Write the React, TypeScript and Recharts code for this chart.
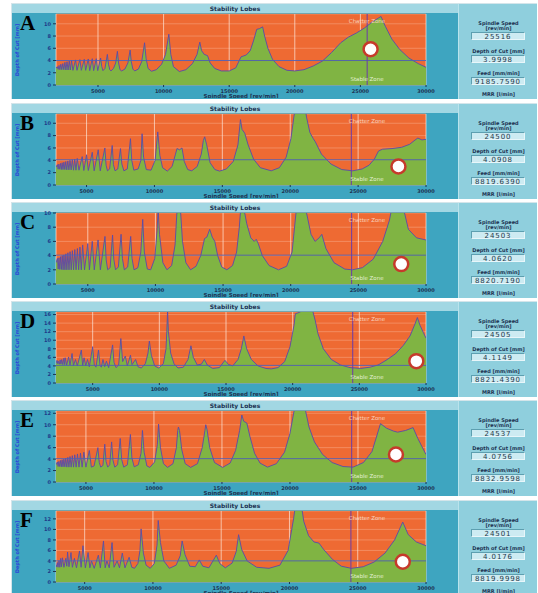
import React from "react";
import {
  ComposedChart,
  Area,
  XAxis,
  YAxis,
  CartesianGrid,
  ReferenceLine,
  ReferenceDot,
  Label,
} from "recharts";

type Pt = [number, number];

// spindle speed [rev/min], depth of cut [mm]
const lobesA: Pt[] = [
  [1800, 2.75], [1900, 3.0], [1960, 2.55], [2030, 3.2], [2095, 2.5], [2170, 3.4], [2240, 2.5], [2320, 3.5],
  [2395, 2.5], [2480, 3.7], [2555, 2.45], [2640, 3.8], [2720, 2.45], [2810, 3.9], [2890, 2.45], [2985, 4.0],
  [3090, 2.4], [3290, 4.1], [3400, 2.4], [3620, 4.15], [3730, 2.4], [3955, 4.2], [4060, 2.4], [4260, 4.25],
  [4370, 2.35], [4565, 4.3], [4670, 2.35], [4870, 4.3], [4980, 2.35], [5200, 4.4], [5290, 3.0], [5380, 2.35],
  [5530, 2.7], [5715, 5.0], [5800, 3.4], [5900, 2.5], [5990, 2.3], [6180, 2.7], [6350, 3.6], [6480, 5.5],
  [6570, 3.6], [6680, 2.5], [6800, 2.3], [7050, 2.6], [7280, 3.6], [7450, 5.7], [7540, 3.8], [7660, 2.6],
  [7800, 2.3], [8080, 2.6], [8330, 3.8], [8550, 6.9], [8670, 4.3], [8820, 2.7], [9080, 2.25], [9450, 2.5],
  [9850, 3.4], [10150, 5.0], [10400, 8.3], [10550, 5.0], [10750, 3.0], [11200, 2.2], [11700, 2.5], [12200, 3.5],
  [12550, 5.0], [12760, 7.0], [12900, 5.6], [13100, 5.0], [13350, 4.8], [13550, 3.6], [13900, 2.7], [14400, 2.3],
  [15000, 2.3], [15500, 2.8], [15900, 4.6], [16300, 4.9], [16600, 5.6], [16850, 7.2], [17100, 9.1], [17300, 9.2],
  [17550, 9.5], [17700, 8.0], [17950, 6.0], [18300, 4.2], [18800, 3.0], [19400, 2.4], [20000, 2.3], [20700, 2.5],
  [21400, 3.1], [22100, 3.9], [22800, 5.3], [23500, 6.9], [24070, 7.8], [24700, 8.5], [25300, 9.3], [25900, 10.3],
  [26570, 11.2], [26900, 9.6], [27400, 7.5], [28000, 5.8], [28700, 4.4], [29400, 3.5], [30000, 2.9],
];

const lobesB: Pt[] = [
  [2750, 2.9], [2850, 3.3], [2905, 2.55], [2960, 3.4], [3020, 2.55], [3080, 3.5], [3140, 2.5], [3200, 3.6],
  [3265, 2.5], [3330, 3.7], [3400, 2.5], [3470, 3.8], [3545, 2.45], [3620, 3.9], [3700, 2.45], [3780, 4.0],
  [3865, 2.45], [3950, 4.1], [4040, 2.4], [4130, 4.2], [4220, 2.4], [4315, 4.3], [4440, 2.4], [4680, 4.6],
  [4800, 2.35], [5000, 4.9], [5130, 2.35], [5420, 5.3], [5560, 2.3], [5860, 5.7], [6010, 2.3], [6350, 6.0],
  [6440, 3.2], [6540, 2.3], [6700, 2.6], [6890, 6.4], [6980, 3.3], [7100, 2.3], [7300, 2.6], [7500, 5.9],
  [7600, 3.4], [7750, 2.3], [8000, 2.6], [8235, 7.5], [8330, 4.0], [8480, 2.4], [8800, 2.6], [9000, 4.0],
  [9090, 8.3], [9200, 4.5], [9400, 2.5], [9750, 2.4], [10050, 4.0], [10245, 8.6], [10400, 4.8], [10600, 2.8],
  [10950, 2.25], [11300, 3.0], [11550, 5.0], [11660, 5.9], [11850, 5.7], [12030, 6.0], [12200, 3.8], [12450, 2.5],
  [12750, 2.3], [13150, 3.0], [13450, 5.0], [13600, 7.2], [13700, 7.8], [13850, 6.5], [14100, 3.6], [14450, 2.5],
  [14800, 2.25], [15300, 2.6], [15800, 3.8], [16150, 6.5], [16335, 10.6], [16450, 9.0], [16650, 8.4], [16900, 6.5],
  [17300, 4.2], [17800, 2.8], [18600, 2.3], [19200, 2.8], [19700, 4.5], [20050, 7.5], [20300, 11.5], [20500, 14],
  [21000, 14], [21200, 11.0], [21450, 8.5], [21700, 7.5], [21850, 7.0], [22300, 5.0], [23000, 3.4], [23800, 2.5],
  [24600, 2.3], [25300, 2.6], [25800, 3.2], [26200, 4.2], [26500, 5.5], [26800, 5.8], [27500, 5.9], [28200, 6.1],
  [28800, 6.6], [29200, 7.3], [29400, 7.6], [29700, 7.3], [30000, 7.4],
];

const lobesC: Pt[] = [
  [2650, 3.0], [2760, 3.6], [2810, 2.1], [2870, 3.7], [2930, 2.05], [2990, 3.85], [3050, 2.05], [3110, 4.0],
  [3175, 2.0], [3240, 4.1], [3310, 2.0], [3380, 4.25], [3455, 2.0], [3530, 4.4], [3610, 2.0], [3690, 4.55],
  [3775, 2.0], [3860, 4.7], [3950, 2.0], [4040, 4.85], [4135, 2.0], [4230, 5.0], [4325, 2.0], [4420, 5.2],
  [4520, 2.0], [4620, 5.5], [4760, 2.0], [5000, 5.7], [5120, 2.0], [5330, 6.0], [5480, 2.0], [5760, 6.2],
  [5930, 2.0], [6270, 6.7], [6360, 3.4], [6470, 2.0], [6650, 2.3], [6830, 6.9], [6920, 3.5], [7050, 2.0],
  [7260, 2.4], [7460, 7.0], [7560, 3.6], [7700, 2.0], [7950, 2.4], [8170, 6.7], [8270, 3.6], [8420, 2.0],
  [8700, 2.3], [8920, 4.5], [9060, 9.1], [9180, 4.5], [9400, 2.1], [9650, 2.0], [9950, 3.6], [10120, 7.5],
  [10200, 10.5], [10300, 7.0], [10550, 3.0], [10850, 2.0], [11200, 2.6], [11450, 5.5], [11600, 10.5], [11720, 12],
  [11850, 10.5], [12000, 6.0], [12250, 3.0], [12600, 2.0], [13000, 2.5], [13350, 4.0], [13630, 6.4], [13800, 6.6],
  [14010, 7.7], [14200, 6.6], [14390, 6.0], [14600, 4.0], [14900, 2.4], [15280, 2.0], [15700, 2.6], [16000, 4.5],
  [16200, 8.0], [16300, 10.5], [16420, 12], [16550, 10.5], [16750, 8.5], [17050, 6.5], [17300, 6.0], [17450, 6.3],
  [17600, 5.7], [17900, 4.0], [18400, 2.6], [19100, 2.0], [19700, 2.5], [20100, 4.5], [20400, 10.2], [20700, 13],
  [21000, 13], [21150, 10.2], [21500, 7.0], [21800, 6.0], [22100, 6.5], [22300, 7.0], [22600, 5.0], [23200, 3.0],
  [24000, 2.1], [24550, 2.0], [25300, 2.3], [26100, 3.5], [26800, 6.0], [27300, 9.0], [27450, 10.5], [28000, 13],
  [28350, 10.5], [28700, 7.7], [29300, 6.5], [30000, 6.2],
];

const lobesD: Pt[] = [
  [2250, 4.6], [2330, 5.3], [2380, 4.5], [2423, 5.1], [2500, 4.4], [2560, 5.4], [2620, 4.4], [2681, 5.5],
  [2760, 4.3], [2840, 5.8], [2900, 4.3], [2940, 5.9], [3050, 4.2], [3196, 6.1], [3300, 4.2], [3454, 6.9],
  [3560, 4.1], [3712, 5.5], [3850, 4.0], [4150, 7.7], [4250, 4.1], [4356, 5.9], [4480, 4.0], [4613, 5.5],
  [4750, 3.8], [5000, 8.5], [5120, 4.2], [5250, 3.7], [5438, 7.7], [5550, 4.1], [5650, 3.7], [5773, 5.5],
  [5900, 3.8], [6031, 5.1], [6200, 3.6], [6495, 8.9], [6600, 4.8], [6750, 3.6], [6950, 4.2], [7113, 10.4],
  [7250, 5.0], [7448, 6.3], [7600, 4.0], [7835, 6.5], [7950, 4.3], [8221, 5.5], [8400, 3.8], [8650, 3.5],
  [8950, 4.5], [9150, 7.0], [9252, 9.8], [9400, 6.5], [9650, 4.0], [9950, 3.5], [10300, 4.5], [10500, 8.0],
  [10560, 12], [10618, 17], [10680, 12], [10850, 7], [11100, 4.5], [11400, 3.5], [11800, 3.7], [12150, 5.5],
  [12370, 8.7], [12550, 6.0], [12850, 4.2], [13150, 4.4], [13375, 5.5], [13600, 4.2], [14000, 3.4], [14500, 3.6],
  [14921, 5.3], [15200, 4.3], [15500, 4.0], [15900, 5.5], [16150, 8.0], [16339, 11.0], [16550, 8.0], [16900, 5.5],
  [17400, 4.0], [18000, 3.4], [18400, 3.3], [18900, 3.6], [19400, 5.0], [19800, 8.5], [20100, 13.5], [20204, 16.2],
  [20500, 16.5], [21000, 17.5], [21493, 17], [21700, 14.5], [21900, 11.5], [22300, 8.0], [22900, 5.5], [23600, 4.2],
  [24300, 3.6], [25100, 3.4], [25800, 3.7], [26400, 4.2], [27000, 5.3], [27700, 6.8], [28300, 8.8], [28800, 11.0],
  [29200, 14.0], [29353, 15.3], [29550, 13.5], [29800, 11.8], [30000, 10.5],
];

const lobesE: Pt[] = [
  [2800, 3.0], [2900, 3.5], [2955, 2.7], [3010, 3.6], [3070, 2.7], [3130, 3.75], [3190, 2.65], [3250, 3.9],
  [3315, 2.65], [3380, 4.0], [3450, 2.65], [3520, 4.15], [3595, 2.6], [3670, 4.3], [3750, 2.6], [3830, 4.45],
  [3915, 2.6], [4000, 4.6], [4090, 2.6], [4180, 4.75], [4280, 2.6], [4380, 4.9], [4490, 2.6], [4600, 5.05],
  [4720, 2.6], [4850, 5.2], [5000, 2.6], [5250, 5.5], [5400, 2.6], [5600, 2.8], [5880, 6.0], [5980, 3.4],
  [6090, 2.6], [6250, 2.9], [6385, 6.6], [6480, 3.6], [6600, 2.6], [6750, 3.0], [6890, 7.0], [6990, 3.8],
  [7120, 2.6], [7330, 3.0], [7520, 7.6], [7630, 3.9], [7780, 2.6], [8050, 3.0], [8270, 8.3], [8380, 4.2],
  [8550, 2.65], [8850, 3.0], [9050, 5.0], [9155, 9.0], [9280, 5.2], [9480, 2.8], [9700, 2.55], [10050, 3.5],
  [10250, 6.5], [10340, 10.1], [10480, 6.0], [10700, 3.2], [11000, 2.55], [11400, 3.2], [11650, 6.0], [11750, 9.0],
  [11800, 9.6], [11880, 9.0], [12050, 5.6], [12300, 3.2], [12700, 2.55], [13200, 3.2], [13550, 6.0], [13750, 9.0],
  [13810, 10.0], [13900, 9.2], [14100, 6.0], [14450, 3.4], [15050, 2.55], [15600, 3.3], [16000, 5.5], [16300, 9.0],
  [16460, 11.7], [16600, 10.6], [16830, 10.3], [17050, 8.0], [17400, 5.0], [17800, 3.3], [18350, 2.6], [19000, 3.2],
  [19600, 5.2], [20000, 8.5], [20300, 12.4], [20500, 14], [21000, 14], [21150, 12.4], [21400, 9.6], [21800, 7.0],
  [22400, 4.8], [23100, 3.4], [23900, 2.7], [24640, 2.6], [25400, 3.4], [26025, 5.3], [26400, 8.2], [26655, 10.2],
  [27100, 9.4], [27600, 8.9], [27914, 8.7], [28500, 9.0], [29050, 9.5], [29400, 7.6], [29700, 6.2], [30000, 4.8],
];

const lobesF: Pt[] = [
  [2900, 3.3], [2950, 2.9], [2996, 3.7], [3050, 2.8], [3121, 4.1], [3180, 2.8], [3247, 4.5], [3300, 2.9],
  [3372, 4.6], [3480, 2.8], [3622, 4.5], [3690, 3.0], [3748, 5.7], [3850, 2.9], [3998, 5.6], [4100, 2.8],
  [4249, 4.5], [4400, 2.7], [4624, 5.9], [4740, 2.8], [4875, 6.9], [5050, 2.7], [5251, 5.6], [5380, 2.7],
  [5501, 4.0], [5700, 2.6], [6002, 5.1], [6150, 2.7], [6378, 7.8], [6500, 2.7], [6629, 4.0], [6800, 2.7],
  [7004, 7.5], [7150, 2.8], [7380, 4.0], [7550, 2.7], [7756, 5.5], [7950, 2.7], [8257, 4.7], [8450, 2.8],
  [8650, 2.6], [8900, 3.5], [9050, 6.0], [9133, 10.1], [9300, 5.5], [9500, 3.2], [9800, 2.6], [10100, 3.5],
  [10300, 7.0], [10386, 11.7], [10550, 7.5], [10800, 4.0], [11200, 2.6], [11700, 3.2], [12000, 5.0], [12139, 7.8],
  [12350, 5.2], [12700, 3.0], [13100, 2.9], [13392, 4.2], [13650, 3.0], [14100, 2.7], [14644, 5.1], [14900, 3.5],
  [15300, 2.7], [15800, 3.6], [16100, 5.8], [16273, 9.0], [16500, 6.2], [16900, 4.0], [17600, 2.8], [18500, 2.6],
  [19300, 3.2], [19900, 6.0], [20300, 12], [20406, 14], [20907, 14], [21050, 11.5], [21400, 8.8], [21800, 7.6],
  [22159, 7.4], [22500, 6.2], [23150, 4.3], [23800, 3.0], [24539, 2.6], [25400, 2.9], [26200, 3.8], [27000, 5.5],
  [27700, 8.0], [28297, 11.4], [28700, 9.0], [29300, 7.6], [30000, 6.9],
];

const lobes = [lobesA, lobesB, lobesC, lobesD, lobesE, lobesF];
const panelLetters = ["A", "B", "C", "D", "E", "F"];
const spindleSpeeds = [25516, 24500, 24503, 24505, 24537, 24501];
const depthsOfCut = [3.9998, 4.0908, 4.062, 4.1149, 4.0756, 4.0176];
const depthTexts = ["3.9998", "4.0908", "4.0620", "4.1149", "4.0756", "4.0176"];
const feedTexts = ["9185.7590", "8819.6390", "8820.7190", "8821.4390", "8832.9598", "8819.9998"];
const speedMin = [1800, 2750, 2650, 2250, 2800, 2900];
const depthMax = [11.6, 11.5, 10, 16.6, 12.4, 13.5];
const depthTicks = [
  [0, 2, 4, 6, 8, 10],
  [0, 2, 4, 6, 8, 10],
  [0, 2, 4, 6, 8, 10],
  [0, 2, 4, 6, 8, 10, 12, 14, 16],
  [0, 2, 4, 6, 8, 10, 12],
  [0, 2, 4, 6, 8, 10, 12],
];
const speedTicks = [5000, 10000, 15000, 20000, 25000, 30000];
const markerSpeed = [25777, 27970, 28170, 29275, 27790, 28300];
const markerDepth = [5.85, 3.0, 2.8, 5.1, 4.8, 3.85];

const panelTops = [3, 103, 202, 301, 400, 500];

const ORANGE = "#ee6a33";
const GREEN = "#80b443";
const CURVE = "#5b49a8";
const TEAL = "#3ea5c0";
const SIDE = "#8fcfdd";
const NAVY = "#1d3352";

function InfoLine({ top, text }: { top: number; text: string }) {
  return (
    <div
      style={{
        position: "absolute",
        left: 0,
        width: 79,
        top: top - 4,
        height: 8,
        lineHeight: "8px",
        textAlign: "center",
        fontSize: 5,
        fontWeight: 700,
        color: NAVY,
        whiteSpace: "nowrap",
      }}
    >
      {text}
    </div>
  );
}

function InfoBox({ top, text }: { top: number; text: string }) {
  return (
    <div
      style={{
        position: "absolute",
        left: 12,
        width: 54,
        top,
        height: 8,
        lineHeight: "8px",
        boxSizing: "border-box",
        background: "#cdebf2",
        borderTop: "1px solid #5d9fb0",
        borderLeft: "1px solid #5d9fb0",
        borderRight: "1px solid #e8f6fa",
        borderBottom: "1px solid #e8f6fa",
        textAlign: "center",
        fontSize: 7,
        letterSpacing: 0.9,
        color: "#27394a",
      }}
    >
      {text}
    </div>
  );
}

function Panel({ i }: { i: number }) {
  const data = lobes[i].map(([speed, depth]) => ({ speed, depth }));
  return (
    <div
      style={{
        position: "absolute",
        left: 11,
        top: panelTops[i],
        width: 526,
        height: 96,
        background: "#d4e5ea",
      }}
    >
      <div style={{ position: "absolute", left: 1, top: 1, width: 446, height: 95, background: TEAL }} />
      <div
        style={{
          position: "absolute",
          left: 1,
          top: 1,
          width: 446,
          height: 9,
          lineHeight: "9px",
          background: "#a2d7e3",
          textAlign: "center",
          fontSize: 6,
          fontWeight: 700,
          color: NAVY,
        }}
      >
        Stability Lobes
      </div>
      <div style={{ position: "absolute", left: 0, top: 4 }}>
        <ComposedChart width={447} height={91} data={data} margin={{ top: 7, right: 32, bottom: 0, left: 0 }}>
          <CartesianGrid vertical={false} stroke="#f6a27d" strokeWidth={0.6} fill={ORANGE} fillOpacity={1} />
          <CartesianGrid horizontal={false} stroke="#fde6da" strokeWidth={0.7} />
          <XAxis
            dataKey="speed"
            type="number"
            domain={[speedMin[i], 30000]}
            ticks={speedTicks}
            allowDataOverflow
            interval={0}
            height={13}
            tickSize={2}
            axisLine={false}
            tickLine={{ stroke: NAVY }}
            tick={{ fontSize: 5, fontWeight: 700, fill: NAVY }}
          >
            <Label
              value="Spindle Speed [rev/min]"
              position="insideBottom"
              offset={0}
              style={{ fontSize: 5.5, fontWeight: 700, fill: NAVY }}
            />
          </XAxis>
          <YAxis
            type="number"
            domain={[0, depthMax[i]]}
            ticks={depthTicks[i]}
            allowDataOverflow
            interval={0}
            width={45}
            tickSize={3}
            tickMargin={2}
            axisLine={false}
            tickLine={{ stroke: NAVY }}
            tick={{ fontSize: 5, fontWeight: 700, fill: "#1f3a8a" }}
          />
          <Area
            dataKey="depth"
            type="linear"
            stroke={CURVE}
            strokeWidth={0.9}
            fill={GREEN}
            fillOpacity={1}
            dot={false}
            activeDot={false}
            isAnimationActive={false}
          />
          <ReferenceLine y={depthsOfCut[i]} stroke="#4f5db3" strokeWidth={0.9} />
          <ReferenceLine x={spindleSpeeds[i]} stroke="#6b3da8" strokeWidth={1} />
          <ReferenceDot
            x={markerSpeed[i]}
            y={markerDepth[i]}
            r={7}
            fill="#ffffff"
            stroke="#c63a2b"
            strokeWidth={2.5}
          />
        </ComposedChart>
      </div>
      <div
        style={{
          position: "absolute",
          left: 6,
          top: 46.5,
          transform: "translate(-50%, -50%) rotate(-90deg)",
          fontSize: 5,
          fontWeight: 700,
          color: "#2a44d8",
          whiteSpace: "nowrap",
        }}
      >
        Depth of Cut [mm]
      </div>
      <div
        style={{
          position: "absolute",
          left: 9,
          top: 9.5,
          fontFamily: "'Liberation Serif', 'Times New Roman', serif",
          fontWeight: 700,
          fontSize: 21,
          lineHeight: "21px",
          color: "#000000",
        }}
      >
        {panelLetters[i]}
      </div>
      <div
        style={{
          position: "absolute",
          left: 356,
          top: 18,
          transform: "translate(-50%, -50%)",
          fontSize: 5.5,
          color: "#f8d2bf",
          whiteSpace: "nowrap",
        }}
      >
        Chatter Zone
      </div>
      <div
        style={{
          position: "absolute",
          left: 356,
          top: 76,
          transform: "translate(-50%, -50%)",
          fontSize: 5.5,
          color: "#e2f0d2",
          whiteSpace: "nowrap",
        }}
      >
        Stable Zone
      </div>
      <div
        style={{
          position: "absolute",
          left: 447,
          top: 1,
          width: 79,
          height: 95,
          background: SIDE,
          boxSizing: "border-box",
          borderLeft: "1px solid #b9e3ec",
        }}
      >
        <InfoLine top={19} text="Spindle Speed" />
        <InfoLine top={23.5} text="[rev/min]" />
        <InfoBox top={28} text={String(spindleSpeeds[i])} />
        <InfoLine top={47} text="Depth of Cut [mm]" />
        <InfoBox top={51} text={depthTexts[i]} />
        <InfoLine top={69} text="Feed [mm/min]" />
        <InfoBox top={73} text={feedTexts[i]} />
        <InfoLine top={90} text="MRR [l/min]" />
      </div>
    </div>
  );
}

export default function App() {
  return (
    <div
      style={{
        position: "fixed",
        left: 0,
        top: 0,
        width: 538,
        height: 593,
        overflow: "hidden",
        background: "#ffffff",
        fontFamily: "'DejaVu Sans', Verdana, sans-serif",
      }}
    >
      {panelLetters.map((letter, i) => (
        <Panel key={letter} i={i} />
      ))}
    </div>
  );
}
